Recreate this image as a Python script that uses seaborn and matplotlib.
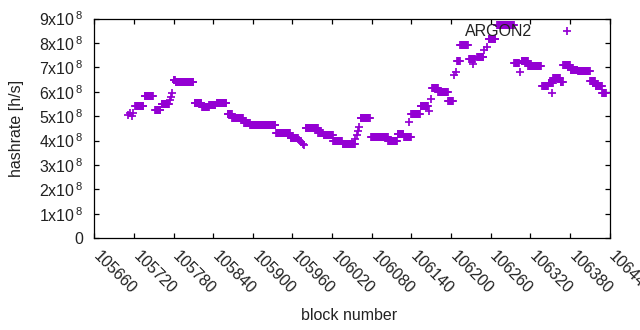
import numpy as np
import pandas as pd
import matplotlib
matplotlib.use("Agg")
import matplotlib.pyplot as plt
import matplotlib.transforms as mtrans
import seaborn as sns

# runs of equal hashrate (block start, block end inclusive, hashrate in 1e8 h/s)
run_start = [105722, 105736, 105752, 105762, 105780, 105783, 105812, 105823, 105834, 105845,
             105862, 105869, 105887, 105896, 105904, 105935, 105957, 105980, 105999, 106007,
             106022, 106036, 106063, 106079, 106105, 106119, 106129, 106140, 106154, 106171,
             106181, 106196, 106209, 106214, 106227, 106240, 106257, 106270, 106296, 106307,
             106317, 106338, 106348, 106355, 106366, 106370, 106381, 106392, 106411, 106419,
             106429]
run_end = [105734, 105749, 105760, 105773, 105782, 105810, 105822, 105833, 105843, 105860,
           105868, 105885, 105895, 105903, 105934, 105956, 105968, 105998, 106006, 106021,
           106035, 106054, 106077, 106104, 106118, 106128, 106139, 106153, 106165, 106180,
           106195, 106203, 106213, 106225, 106236, 106249, 106267, 106295, 106303, 106316,
           106336, 106347, 106354, 106365, 106369, 106380, 106391, 106410, 106418, 106428,
           106434]
run_value = [5.42, 5.83, 5.25, 5.48, 6.48, 6.40, 5.56, 5.36, 5.45, 5.52,
             5.11, 4.91, 4.72, 4.64, 4.62, 4.30, 4.10, 4.50, 4.32, 4.21,
             3.97, 3.85, 4.91, 4.13, 3.98, 4.28, 4.15, 5.11, 5.40, 6.14,
             6.01, 5.61, 7.28, 7.90, 7.36, 7.41, 8.18, 8.72, 7.16, 7.28,
             7.04, 6.22, 6.34, 6.55, 6.42, 7.08, 6.91, 6.87, 6.46, 6.22,
             5.93]

# isolated blocks
single_block = [105711, 105714, 105717, 105719, 105774, 105776, 105778, 105970, 105973,
                105976, 105978, 106055, 106057, 106059, 106061, 106137, 106166, 106169,
                106205, 106208, 106233, 106250, 106254, 106305, 106353]
single_value = [5.05, 5.12, 5.00, 5.15, 5.65, 5.80, 5.95, 4.02, 3.93,
                3.85, 3.80, 4.05, 4.25, 4.40, 4.55, 4.75, 5.20, 5.69,
                6.70, 6.80, 7.15, 7.70, 7.85, 6.79, 5.93]

x_ticks = list(range(105660, 106441, 60))
y_ticks = list(range(0, 10))
series_label = "ARGON2"

blocks, rates = [], []
for s, e, v in zip(run_start, run_end, run_value):
    for b in range(s, e + 1):
        blocks.append(b)
        rates.append(v * 1e8)
for b, v in zip(single_block, single_value):
    blocks.append(b)
    rates.append(v * 1e8)
df = pd.DataFrame({"block": blocks, "hashrate": rates})

sns.set_theme(style="ticks")
plt.rcParams["font.family"] = ["Liberation Sans", "DejaVu Sans"]
plt.rcParams["mathtext.fontset"] = "custom"
plt.rcParams["mathtext.rm"] = "Liberation Sans"
plt.rcParams["mathtext.it"] = "Liberation Sans"

FS = 11.5
W, H = 640, 330
fig = plt.figure(figsize=(W / 100, H / 100), dpi=100)
L, R, T, B = 94.3, 609.6, 18.5, 238.3
ax = fig.add_axes([L / W, 1 - B / H, (R - L) / W, (B - T) / H])

color = "#9400D3"
sns.scatterplot(data=df, x="block", y="hashrate", marker="+", s=36, linewidth=1.25,
                color=color, ax=ax, label=series_label, zorder=3)

ax.set_xlim(105660, 106440)
ax.set_ylim(0, 9e8)
ax.set_xticks(x_ticks)
ax.set_xticklabels([str(t) for t in x_ticks], fontsize=FS, color="#222222")
ax.set_yticks([t * 1e8 for t in y_ticks])
ax.set_yticklabels(["0"] + [r"%dx10$^{\,8}$" % t for t in y_ticks[1:]], fontsize=FS, color="#222222")

for sp in ax.spines.values():
    sp.set_visible(True)
    sp.set_color("black")
    sp.set_linewidth(0.9)
ax.tick_params(direction="in", top=True, right=True, length=3.5, width=0.9, color="black")
ax.tick_params(axis="y", pad=8)
ax.tick_params(axis="x", pad=7)

offset = mtrans.ScaledTranslation(7 / 100, 0, fig.dpi_scale_trans)
for lab in ax.get_xticklabels():
    lab.set_rotation(-45)
    lab.set_ha("left")
    lab.set_va("top")
    lab.set_rotation_mode("anchor")
    lab.set_transform(lab.get_transform() + offset)

ax.set_xlabel("block number", fontsize=FS, color="#222222")
ax.set_ylabel("hashrate [h/s]", fontsize=FS, color="#222222")
ax.xaxis.set_label_coords((349 - L) / (R - L), (B - 315) / (B - T))
ax.xaxis.label.set_va("center")
ax.yaxis.set_label_coords((17 - L) / (R - L), 0.5)
ax.yaxis.label.set_va("center")

leg = ax.legend(loc="center right", bbox_to_anchor=(583 / W, 1 - 31 / H),
                bbox_transform=fig.transFigure, frameon=False, markerfirst=False,
                fontsize=FS, borderaxespad=0, borderpad=0, handlelength=2.0,
                handletextpad=1.2)
leg.set_zorder(5)
for t in leg.get_texts():
    t.set_color("#222222")

fig.savefig("out.png", dpi=100)
